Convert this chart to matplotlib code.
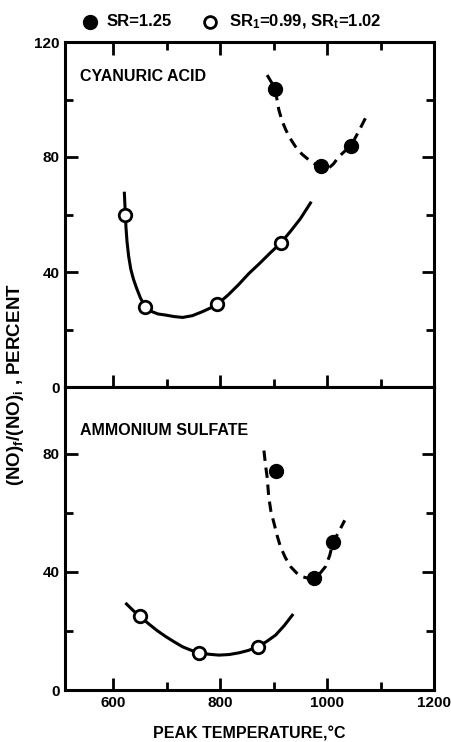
"""NO conversion vs peak temperature, two fuel-nitrogen additives."""

import matplotlib
matplotlib.use("Agg")
import matplotlib.pyplot as plt
from matplotlib.ticker import FixedLocator

plt.rcParams["font.family"] = ["Liberation Sans", "DejaVu Sans"]
plt.rcParams["font.weight"] = "bold"
plt.rcParams["mathtext.default"] = "regular"

# --- data ---------------------------------------------------------------
# cyanuric acid
ca_sr125_x = [903, 988, 1045]
ca_sr125_y = [103.5, 77, 84]
ca_sr099_x = [623, 659, 795, 913]
ca_sr099_y = [60, 28, 29, 50]
# hand drawn trend curves
ca_dash_x = [888, 896, 903, 910, 916, 923, 931, 941, 953, 966, 977, 988, 996, 1003, 1012, 1022, 1033, 1045, 1058, 1074]
ca_dash_y = [108.5, 106, 103.5, 96.3, 92.5, 89.4, 86.5, 83.6, 81, 79, 77.6, 76.6, 76, 76.1, 77.6, 80.1, 82, 84, 88.5, 94.3]
ca_solid_x = [621, 622, 623, 624, 626, 629, 633, 638, 644, 651, 659, 670, 684, 699, 714, 730, 748, 767, 781, 795, 815, 834, 854, 874, 893, 913, 931, 950, 969]
ca_solid_y = [67.4, 63.5, 60, 55.5, 50.5, 45.5, 41, 37.5, 34.3, 31, 28.2, 26.4, 25.4, 25, 24.5, 24.2, 24.8, 26.2, 27.4, 28.8, 32, 35.5, 39.5, 43, 46.5, 50, 54, 58.5, 64]

# ammonium sulfate
as_sr125_x = [904, 975, 1011]
as_sr125_y = [74, 38, 50]
as_sr099_x = [651, 760, 870]
as_sr099_y = [25, 12.6, 14.6]
as_dash_x = [882, 885, 888, 891, 895, 901, 907, 913, 922, 932, 943, 954, 965, 975, 987, 997, 1005, 1011, 1022, 1033]
as_dash_y = [81, 76, 72, 65.3, 60.5, 56.3, 52, 48.4, 44.8, 41.7, 39.6, 38.3, 37.8, 38, 39.5, 41.7, 45.5, 50, 53.5, 57.4]
as_solid_x = [625, 638, 651, 667, 683, 699, 715, 730, 745, 760, 779, 798, 817, 836, 853, 870, 887, 904, 920, 935]
as_solid_y = [29.1, 26.8, 24.8, 22.3, 20, 18, 16.2, 14.6, 13.5, 12.6, 12.1, 11.8, 12, 12.6, 13.4, 14.6, 16.4, 18.6, 21.8, 25.3]

x_major = [600, 800, 1000, 1200]
x_minor = [700, 900, 1100]
top_y_major = [0, 40, 80, 120]
top_y_minor = [20, 60, 100]
bot_y_major = [0, 40, 80]
bot_y_minor = [20, 60]

W, H = 452, 742
fig = plt.figure(figsize=(W / 100, H / 100), dpi=100)

left, right = 65, 434
ax_top = fig.add_axes([left / W, 1 - 387 / H, (right - left) / W, (387 - 42) / H])
ax_bot = fig.add_axes([left / W, 1 - 690 / H, (right - left) / W, (690 - 387) / H])

lw = 2.2
dash = (3.4, 2.2)


def style_axis(ax, ymaj, ymin, ylim, top_ticks):
    ax.set_xlim(510, 1200)
    ax.set_ylim(*ylim)
    ax.set_xticks(x_major, labels=[str(v) for v in x_major],
                  fontweight="bold", fontsize=11)
    ax.set_yticks(ymaj, labels=[str(v) for v in ymaj],
                  fontweight="bold", fontsize=11)
    ax.xaxis.set_minor_locator(FixedLocator(x_minor))
    ax.yaxis.set_minor_locator(FixedLocator(ymin))
    for s in ax.spines.values():
        s.set_linewidth(2.2)
    ax.tick_params(which="both", direction="in", width=2,
                   top=top_ticks, right=True, pad=4)
    ax.tick_params(which="major", length=9)
    ax.tick_params(which="minor", length=5.5)


def draw_panel(ax, dx, dy, sx, sy, fx, fy, ox, oy):
    ax.plot(dx, dy, color="black", lw=lw, ls=(0, dash), zorder=2)
    ax.plot(sx, sy, color="black", lw=lw, zorder=2)
    ax.plot(fx, fy, "o", color="black", ms=10, zorder=3)
    ax.plot(ox, oy, "o", mfc="white", mec="black", mew=2, ms=9, zorder=3)


draw_panel(ax_top, ca_dash_x, ca_dash_y, ca_solid_x, ca_solid_y,
           ca_sr125_x, ca_sr125_y, ca_sr099_x, ca_sr099_y)
draw_panel(ax_bot, as_dash_x, as_dash_y, as_solid_x, as_solid_y,
           as_sr125_x, as_sr125_y, as_sr099_x, as_sr099_y)

style_axis(ax_top, top_y_major, top_y_minor, (0, 120), True)
style_axis(ax_bot, bot_y_major, bot_y_minor, (0, 102.5), False)
ax_top.tick_params(labelbottom=False)

ax_top.text(0.04, 0.90, "CYANURIC ACID", transform=ax_top.transAxes,
            fontsize=11.5, fontweight="bold", va="center", ha="left")
ax_bot.text(0.04, 0.858, "AMMONIUM SULFATE", transform=ax_bot.transAxes,
            fontsize=11.5, fontweight="bold", va="center", ha="left")

ax_bot.set_xlabel("PEAK TEMPERATURE,\u00b0C", fontsize=11.5, fontweight="bold",
                  labelpad=12)
fig.text(16 / W, 1 - 385 / H, "(NO)$_f$/(NO)$_i$ , PERCENT", rotation=90,
         fontsize=13.5, fontweight="bold", ha="center", va="center")

# legend row on top
ly = 1 - 22 / H
fig.add_artist(plt.Line2D([90 / W], [ly], marker="o", color="black", ms=10,
                          transform=fig.transFigure))
fig.text(107 / W, ly, "SR=1.25", fontsize=12, fontweight="bold", va="center", ha="left")
fig.add_artist(plt.Line2D([210 / W], [ly], marker="o", mfc="white", mec="black",
                          mew=2, ms=8.5, transform=fig.transFigure))
fig.text(229 / W, ly, "SR$_1$=0.99, SR$_t$=1.02", fontsize=12, fontweight="bold",
         va="center", ha="left")

fig.savefig("out.png", dpi=100)
